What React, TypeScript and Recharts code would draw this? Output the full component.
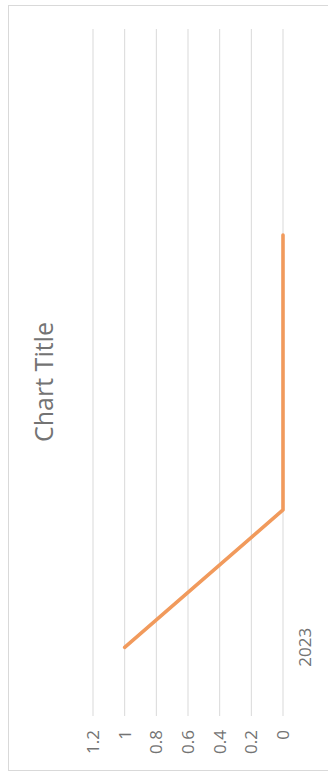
import React from "react";
import { LineChart, Line, XAxis, YAxis, CartesianGrid } from "recharts";

const categories = ["2023", "", "", "", ""];
const seriesValues: (number | null)[] = [1, 0, 0, 0, null];
const valueTicks = [0, 0.2, 0.4, 0.6, 0.8, 1, 1.2];
const chartTitle = "Chart Title";

const data = categories.map((c, i) => ({ cat: c, value: seriesValues[i] }));

const W = 766;
const H = 322;
const FONT = "'Open Sans', sans-serif";
const TEXT = "#737373";
const HALF_BAND = 68.7;

export default function App() {
  return (
    <div style={{ position: "absolute", left: 8, top: 5, width: H, height: W }}>
      <div
        style={{
          position: "absolute",
          left: 0,
          top: 0,
          width: W,
          height: H,
          transformOrigin: "0 0",
          transform: `translate(0px, ${W}px) rotate(-90deg)`,
          background: "#fff",
        }}
      >
        <LineChart
          width={W}
          height={H}
          data={data}
          margin={{ top: 85, right: 24, bottom: 17, left: 0 }}
        >
          <CartesianGrid vertical={false} stroke="#d9d9d9" strokeWidth={1} />
          <XAxis
            dataKey="cat"
            type="category"
            allowDuplicatedCategory={true}
            padding={{ left: HALF_BAND, right: HALF_BAND }}
            axisLine={false}
            tickLine={false}
            tickSize={0}
            tickMargin={16}
            height={30}
            interval={0}
            tick={{ fill: TEXT, fontSize: 17, fontFamily: FONT }}
          />
          <YAxis
            domain={[0, 1.2]}
            ticks={valueTicks}
            axisLine={false}
            tickLine={false}
            tickSize={0}
            tickMargin={14}
            width={55}
            tick={{ fill: TEXT, fontSize: 17, fontFamily: FONT }}
          />
          <Line
            dataKey="value"
            stroke="#F19A5C"
            strokeWidth={3.6}
            dot={false}
            activeDot={false}
            isAnimationActive={false}
            strokeLinecap="round"
            strokeLinejoin="round"
          />
        </LineChart>
        <svg
          width={W}
          height={H}
          style={{ position: "absolute", left: 0, top: 0, pointerEvents: "none" }}
        >
          <text
            x={389}
            y={45}
            textAnchor="middle"
            fill={TEXT}
            fontSize={25}
            fontFamily={FONT}
          >
            {chartTitle}
          </text>
        </svg>
      </div>
      <div
        style={{
          position: "absolute",
          left: 0,
          top: 0,
          width: H,
          height: W,
          boxSizing: "border-box",
          border: "1px solid #d9d9d9",
          pointerEvents: "none",
        }}
      />
    </div>
  );
}
